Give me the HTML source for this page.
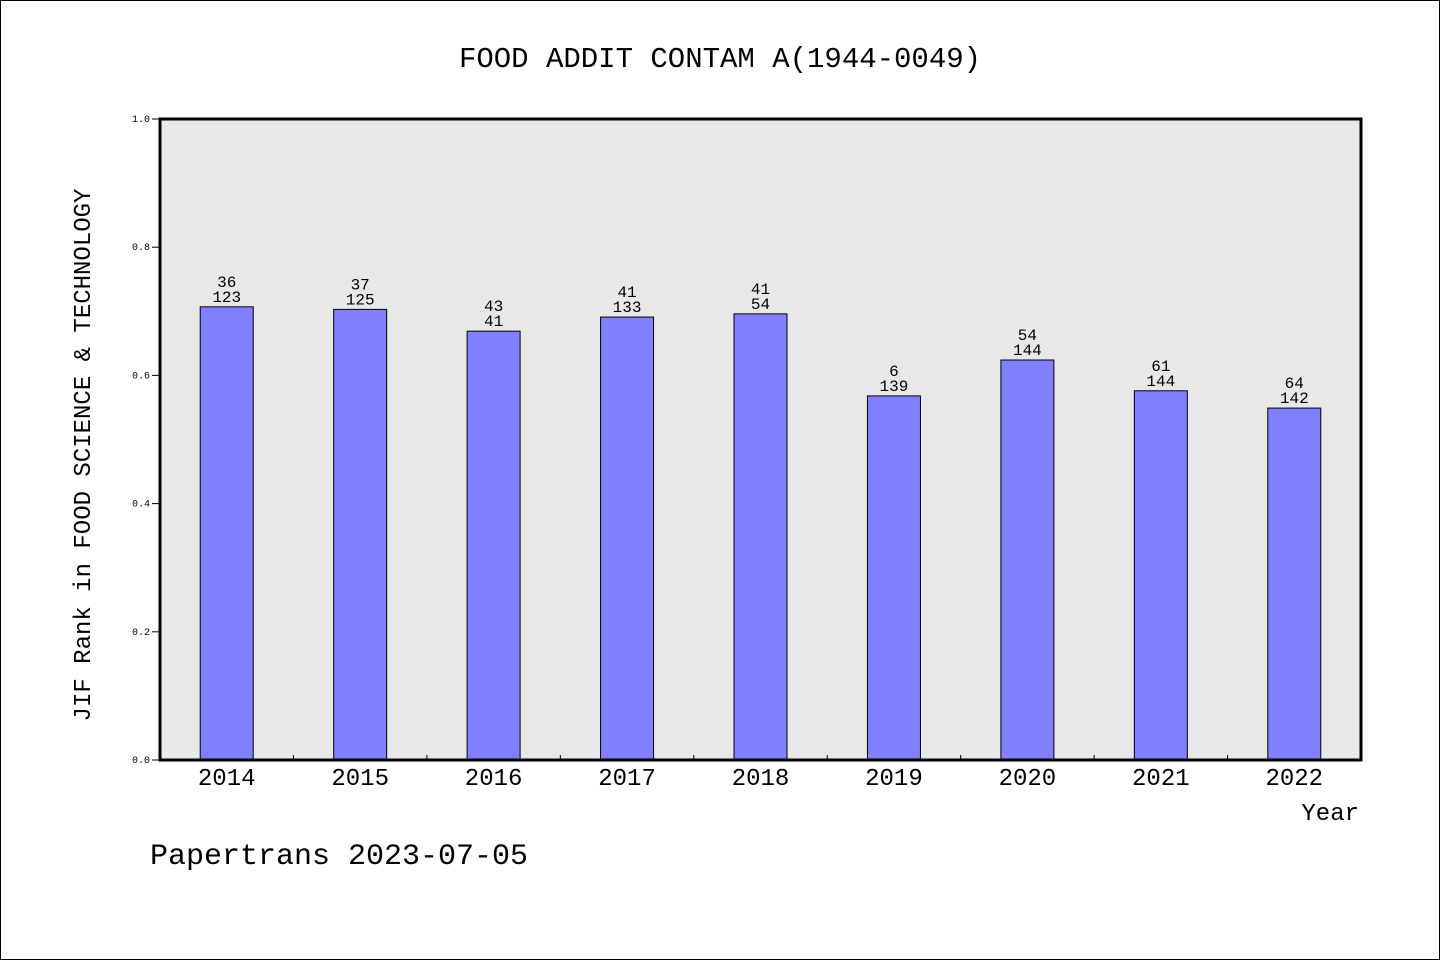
<!DOCTYPE html>
<html><head><meta charset="utf-8"><style>
body{margin:0;background:#fff}
svg text{font-family:"Liberation Mono","WenQuanYi Zen Hei",monospace;fill:#000}
</style></head><body>
<svg id="chart" width="1440" height="960" xmlns="http://www.w3.org/2000/svg">
<rect x="0.5" y="0.5" width="1439" height="959" fill="#fff" stroke="#000"/>
<text x="720" y="67" font-size="29" text-anchor="middle">FOOD ADDIT CONTAM A(1944-0049)</text>
<rect x="160" y="119" width="1201" height="641" fill="#e8e8e8"/>
<g id="ticks"></g>
<g id="bars"></g>
<rect x="160" y="119" width="1201" height="641" fill="none" stroke="#000" stroke-width="3"/>
<text transform="translate(90,455) rotate(-90)" font-size="24" text-anchor="middle">JIF Rank in FOOD SCIENCE &amp; TECHNOLOGY</text>
<text x="1359" y="820" font-size="24" text-anchor="end">Year</text>
<text x="150" y="864" font-size="30">Papertrans 2023-07-05</text>
</svg>
<script>
const years=["2014","2015","2016","2017","2018","2019","2020","2021","2022"];
const values=[0.707,0.703,0.669,0.691,0.696,0.568,0.624,0.576,0.549];
const ranks=["36","37","43","41","41","6","54","61","64"];
const totals=["123","125","41","133","54","139","144","144","142"];
const yTicks=[0,0.2,0.4,0.6,0.8,1.0];
const X0=160,W=1201,Y0=760,H=641;
const band=W/years.length;
const xc=i=>X0+band*(i+0.5);
const y=v=>Y0-v*H;
const NS="http://www.w3.org/2000/svg";
const bars=document.getElementById('bars'),ticks=document.getElementById('ticks');
function mk(tag,attrs,parent,txt){const e=document.createElementNS(NS,tag);for(const k in attrs)e.setAttribute(k,attrs[k]);if(txt!==undefined)e.textContent=txt;parent.appendChild(e);return e;}
yTicks.forEach(t=>{
  const l=mk('line',{x1:X0-8,x2:X0,y1:y(t),y2:y(t),stroke:'#000'},ticks);
  
  
  const s=mk('text',{x:X0-10,y:y(t)+3,'font-size':10,'text-anchor':'end'},ticks,t.toFixed(1));
  
  
});
for(let i=1;i<years.length;i++){
  const l=mk('line',{x1:X0+band*i,x2:X0+band*i,y1:Y0-5,y2:Y0,stroke:'#000'},ticks);
  
  
}
years.forEach((yr,i)=>{
  const bw=53;
  const r=mk('rect',{x:xc(i)-bw/2,y:y(values[i]),width:bw,height:Y0-y(values[i]),fill:'#8080ff',stroke:'#000','stroke-width':1},bars);
  
  
  const a=mk('text',{x:xc(i),y:y(values[i])-20,'font-size':16,'text-anchor':'middle'},bars,ranks[i]);
  
  
  const b=mk('text',{x:xc(i),y:y(values[i])-5,'font-size':16,'text-anchor':'middle'},bars,totals[i]);
  
  
  const t=mk('text',{x:xc(i),y:Y0+25,'font-size':24,'text-anchor':'middle'},bars,yr);
  
  
});
</script>
</body></html>
